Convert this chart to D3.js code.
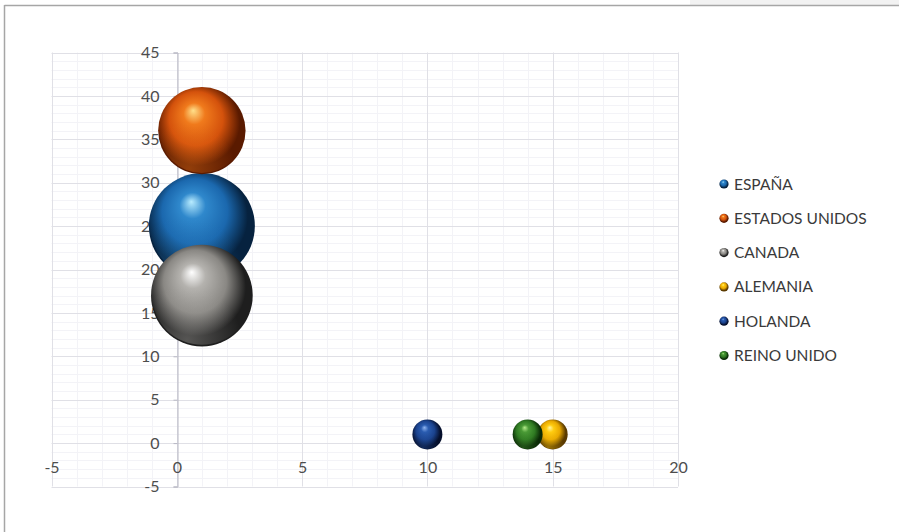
<!DOCTYPE html>
<html>
<head>
<meta charset="utf-8">
<script src="https://cdn.jsdelivr.net/npm/d3@7"></script>
<style>
  html, body { margin: 0; padding: 0; background: #ffffff; }
  svg { display: block; }
</style>
</head>
<body>
<svg id="chart" width="899" height="532"></svg>
<script>
// Bubble chart: countries placed by (x, y) with sphere size from a third value
const countries = ["ESPAÑA", "ESTADOS UNIDOS", "CANADA", "ALEMANIA", "HOLANDA", "REINO UNIDO"];
const xValues   = [1, 1, 1, 15, 10, 14];
const yValues   = [25, 36, 17, 1, 1, 1];
const sizes     = [25, 17, 23, 2, 2, 2];
const xTicks    = [-5, 0, 5, 10, 15, 20];
const yTicks    = [-5, 0, 5, 10, 15, 20, 25, 30, 35, 40, 45];

// sphere shading per series: highlight, body, shadow
const palette = [
  { hi: "#b8ecff", mid: "#2f88cc", base: "#1b68ae", dark: "#06223f" },
  { hi: "#ffe08a", mid: "#f07a1c", base: "#d4520c", dark: "#5a1a00" },
  { hi: "#ffffff", mid: "#b4b2ae", base: "#8a8884", dark: "#1e1e1e" },
  { hi: "#fff6a0", mid: "#ffcc10", base: "#e8a800", dark: "#5a3a00" },
  { hi: "#8fb4f0", mid: "#2a5cb0", base: "#1b438e", dark: "#050f2c" },
  { hi: "#b4ec8a", mid: "#4a9a36", base: "#2f7a22", dark: "#0a2a06" }
];

const FONT = "Lato, 'Open Sans', sans-serif";
const svg = d3.select("#chart");
const plot = { left: 51.5, right: 678, top: 52.5, bottom: 486.5 };

const x = d3.scaleLinear().domain([-5, 20]).range([plot.left, plot.right]);
const y = d3.scaleLinear().domain([-5, 45]).range([plot.bottom, plot.top]);
const r = d3.scaleSqrt().domain([0, 25]).range([0, 53]);

// outer frame of the chart object
svg.append("rect").attr("x", 690).attr("y", 0).attr("width", 209).attr("height", 5).attr("fill", "#f2f2f2");
svg.append("line").attr("x1", 4.5).attr("x2", 899).attr("y1", 5.5).attr("y2", 5.5)
  .attr("stroke", "#a6a6a6").attr("stroke-width", 1.5);
svg.append("line").attr("x1", 4.5).attr("x2", 4.5).attr("y1", 5).attr("y2", 532)
  .attr("stroke", "#a6a6a6").attr("stroke-width", 1.5);

// gradients for the 3D sphere look
const defs = svg.append("defs");
palette.forEach((p, i) => {
  const g = defs.append("radialGradient").attr("id", "sph" + i)
    .attr("cx", "0.46").attr("cy", "0.44").attr("r", "0.56")
    .attr("fx", "0.40").attr("fy", "0.27");
  g.append("stop").attr("offset", "0").attr("stop-color", p.hi);
  g.append("stop").attr("offset", "0.22").attr("stop-color", p.mid);
  g.append("stop").attr("offset", "0.55").attr("stop-color", p.base);
  g.append("stop").attr("offset", "0.86").attr("stop-color", p.dark);
  g.append("stop").attr("offset", "1").attr("stop-color", p.dark);
  // soft bounce light along the lower-left rim
  const b = defs.append("radialGradient").attr("id", "rim" + i)
    .attr("cx", "0.35").attr("cy", "0.95").attr("r", "0.55");
  b.append("stop").attr("offset", "0").attr("stop-color", p.mid).attr("stop-opacity", 0.75);
  b.append("stop").attr("offset", "1").attr("stop-color", p.mid).attr("stop-opacity", 0);
});

// minor gridlines every unit
const grid = svg.append("g");
grid.selectAll(".mx").data(d3.range(-5, 21).filter(v => v % 5 !== 0)).join("line")
  .attr("x1", d => Math.round(x(d)) + 0.5).attr("x2", d => Math.round(x(d)) + 0.5)
  .attr("y1", plot.top).attr("y2", plot.bottom)
  .attr("stroke", "#f3f3f7").attr("stroke-width", 1);
grid.selectAll(".my").data(d3.range(-5, 46).filter(v => v % 5 !== 0)).join("line")
  .attr("x1", plot.left).attr("x2", plot.right)
  .attr("y1", d => Math.round(y(d)) + 0.5).attr("y2", d => Math.round(y(d)) + 0.5)
  .attr("stroke", "#f3f3f7").attr("stroke-width", 1);
// major gridlines
grid.selectAll(".Mx").data(xTicks).join("line")
  .attr("x1", d => Math.round(x(d)) + 0.5).attr("x2", d => Math.round(x(d)) + 0.5)
  .attr("y1", plot.top).attr("y2", plot.bottom)
  .attr("stroke", "#e0e0e6").attr("stroke-width", 1);
grid.selectAll(".My").data(yTicks).join("line")
  .attr("x1", plot.left).attr("x2", plot.right)
  .attr("y1", d => Math.round(y(d)) + 0.5).attr("y2", d => Math.round(y(d)) + 0.5)
  .attr("stroke", "#e0e0e6").attr("stroke-width", 1);

// y axis at x = 0
const plain = d => String(d);
const yAxis = d3.axisLeft(y).tickValues(yTicks).tickFormat(plain).tickSize(4).tickPadding(14);
const gy = svg.append("g").attr("transform", `translate(${Math.round(x(0)) + 0.5},0)`).call(yAxis);
gy.select(".domain").attr("stroke", "#b8b8c4");
gy.selectAll(".tick line").attr("stroke", "#b8b8c4");
gy.selectAll(".tick text").attr("fill", "#4d4d4d")
  .style("font-family", FONT).style("font-size", "16px");

// x axis labels at y = 0, set just below the line
const xAxis = d3.axisBottom(x).tickValues(xTicks).tickFormat(plain).tickSize(0).tickPadding(18);
const gx = svg.append("g").attr("transform", `translate(0,${Math.round(y(0)) + 0.5})`).call(xAxis);
gx.select(".domain").remove();
gx.selectAll(".tick text").attr("fill", "#4d4d4d")
  .style("font-family", FONT).style("font-size", "16px");

// bubbles
const data = countries.map((c, i) => ({ name: c, x: xValues[i], y: yValues[i], s: sizes[i], i }));
const bubbles = svg.append("g").selectAll("g").data(data).join("g");
bubbles.append("circle")
  .attr("cx", d => x(d.x)).attr("cy", d => y(d.y)).attr("r", d => r(d.s))
  .attr("fill", d => `url(#sph${d.i})`);
bubbles.append("circle")
  .attr("cx", d => x(d.x)).attr("cy", d => y(d.y)).attr("r", d => r(d.s) * 0.97)
  .attr("fill", d => `url(#rim${d.i})`).attr("opacity", 0.5);

// legend
const legend = svg.append("g").selectAll("g").data(data).join("g")
  .attr("transform", (d, i) => `translate(724,${184 + i * 34.3})`);
legend.append("circle").attr("r", 4.6).attr("fill", d => `url(#sph${d.i})`);
legend.append("text").attr("x", 10).attr("dy", "0.36em")
  .attr("fill", "#3a3a3a")
  .style("font-family", FONT).style("font-size", "15.5px")
  .text(d => d.name);
</script>
</body>
</html>
